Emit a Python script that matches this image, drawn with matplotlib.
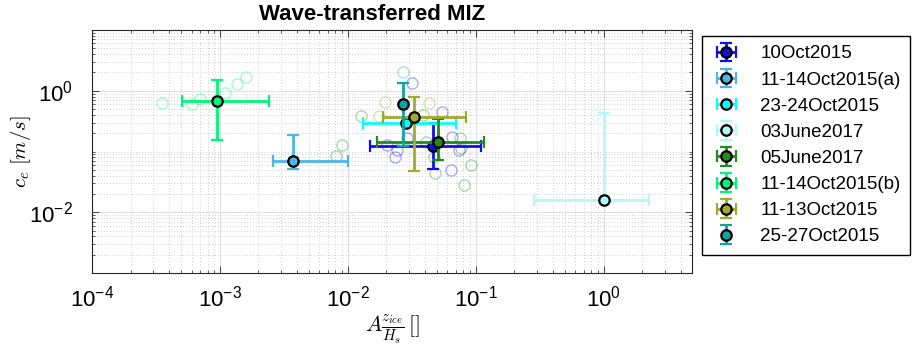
import numpy as np
import matplotlib
matplotlib.use("Agg")
import matplotlib.pyplot as plt
from matplotlib.ticker import FixedLocator, LogLocator, FuncFormatter, NullFormatter

# Campaign labels (legend order)
names = ["10Oct2015", "11-14Oct2015(a)", "23-24Oct2015", "03June2017",
         "05June2017", "11-14Oct2015(b)", "11-13Oct2015", "25-27Oct2015"]

# Median values per campaign
x_mid = [0.0464, 0.00374, 0.0287, 1.0, 0.0508, 0.000953, 0.0328, 0.0270]
y_mid = [0.121, 0.0686, 0.292, 0.0157, 0.1426, 0.678, 0.366, 0.605]

# Error bar extents (lower / upper bounds, None = no bar)
x_lo = [0.0149, 0.00261, 0.0132, 0.284, 0.0169, 0.000508, 0.0189, None]
x_hi = [0.109, 0.0101, 0.0706, 2.26, 0.1155, 0.00243, 0.0846, None]
y_lo = [0.0514, 0.052, None, 0.0157, 0.0712, 0.1556, 0.0483, 0.125]
y_hi = [0.292, 0.188, None, 0.436, 0.344, 1.50, 0.78, 1.32]

# Individual estimates (open circles), per campaign
pts_x = [
    [0.0320, 0.054, 0.0288, 0.0204, 0.0243, 0.0233, 0.0653, 0.0736, 0.0638],
    [],
    [],
    [0.877],
    [0.0407, 0.047, 0.0478, 0.075, 0.0773, 0.0925, 0.081, 0.0388, 0.01264,
     0.00806, 0.00893],
    [0.00035, 0.0006, 0.0007, 0.00109, 0.00136, 0.0016],
    [0.01945, 0.01746, 0.0432],
    [0.027],
]
pts_y = [
    [1.32, 0.453, 0.166, 0.129, 0.1066, 0.081, 0.172, 0.1066, 0.0501],
    [],
    [],
    [0.40],
    [0.1426, 0.081, 0.0443, 0.166, 0.1137, 0.0589, 0.0277, 0.40, 0.389,
     0.085, 0.127],
    [0.636, 0.598, 0.731, 0.927, 1.29, 1.68],
    [0.645, 0.389, 0.621],
    [2.05],
]

colors = ["#1010E6", "#4DB6E8", "#00FFFF", "#B0FAFA",
          "#1E8C1E", "#00F57A", "#A0AA2E", "#13A3A3"]

plt.rcParams["font.family"] = ["Liberation Sans", "DejaVu Sans"]
plt.rcParams["mathtext.fontset"] = "custom"
plt.rcParams["mathtext.rm"] = "Liberation Sans"
plt.rcParams["mathtext.it"] = "Liberation Sans:italic"
plt.rcParams["mathtext.bf"] = "Liberation Sans:bold"

fig = plt.figure(figsize=(9.2, 3.47), dpi=100)
ax = fig.add_axes([92 / 920, 1 - 273 / 347, 600 / 920, 243 / 347])
ax.set_xscale("log")
ax.set_yscale("log")

# open circles for the single estimates
for i in range(len(names)):
    if pts_x[i]:
        ax.plot(pts_x[i], pts_y[i], "o", ms=8, mfc="none", mec=colors[i],
                mew=1.0, alpha=0.35, zorder=2)

handles = []
for i in range(len(names)):
    xe = None
    ye = None
    if x_lo[i] is not None:
        xe = [[x_mid[i] - x_lo[i]], [x_hi[i] - x_mid[i]]]
    if y_lo[i] is not None:
        ye = [[y_mid[i] - y_lo[i]], [y_hi[i] - y_mid[i]]]
    h = ax.errorbar([x_mid[i]], [y_mid[i]], xerr=xe, yerr=ye, fmt="o",
                    color=colors[i], mfc=colors[i], mec="k", mew=1.6, ms=7.5,
                    elinewidth=2, capsize=4, capthick=2, zorder=3 + i)
    handles.append(h)

ax.set_xlim(1e-4, 4.9)
ax.set_ylim(1e-3, 10)

ax.xaxis.set_major_locator(FixedLocator([1e-4, 1e-3, 1e-2, 1e-1, 1e0]))
ax.yaxis.set_major_locator(FixedLocator([1e-2, 1e0]))
for axis in (ax.xaxis, ax.yaxis):
    axis.set_minor_locator(LogLocator(base=10, subs=np.arange(1, 10), numticks=20))
    axis.set_minor_formatter(NullFormatter())
    axis.set_major_formatter(FuncFormatter(
        lambda v, pos: r"$\mathregular{10^{%d}}$" % round(np.log10(v))))

ax.tick_params(which="both", direction="in", top=True, right=True,
               colors="0.15", labelcolor="k", labelsize=16)
ax.tick_params(which="major", length=5, width=0.6)
ax.tick_params(which="minor", length=2.5, width=0.5)
ax.tick_params(axis="x", pad=9)
ax.tick_params(axis="y", pad=14)

ax.grid(True, which="major", color="0.88", lw=0.8, ls="-")
ax.grid(True, which="minor", color="0.75", lw=0.6, ls=(0, (1, 2.5)))
ax.set_axisbelow(True)
for s in ax.spines.values():
    s.set_color("0.15")
    s.set_linewidth(0.8)

ax.set_xlabel(r"$A\frac{z_{ice}}{H_s}\,[]$", fontsize=15.5, math_fontfamily="cm")
ax.xaxis.set_label_coords(0.5, -0.163)
ax.set_ylabel(r"$c_e\ [m/s]$", fontsize=15, math_fontfamily="cm")
ax.yaxis.set_label_coords(-0.098, 0.5)
ax.set_title("Wave-transferred MIZ", fontsize=16, fontweight="bold",
             x=0.4675, pad=7)

ax.legend(handles, names, loc="upper left",
          bbox_to_anchor=(702 / 920, 1 - 36 / 347), bbox_transform=fig.transFigure,
          fancybox=False, edgecolor="k", framealpha=1, fontsize=13.5,
          handlelength=1.6, labelspacing=0.48, borderpad=0.5, handletextpad=1.0,
          borderaxespad=0)

fig.savefig("out.png", dpi=100)
